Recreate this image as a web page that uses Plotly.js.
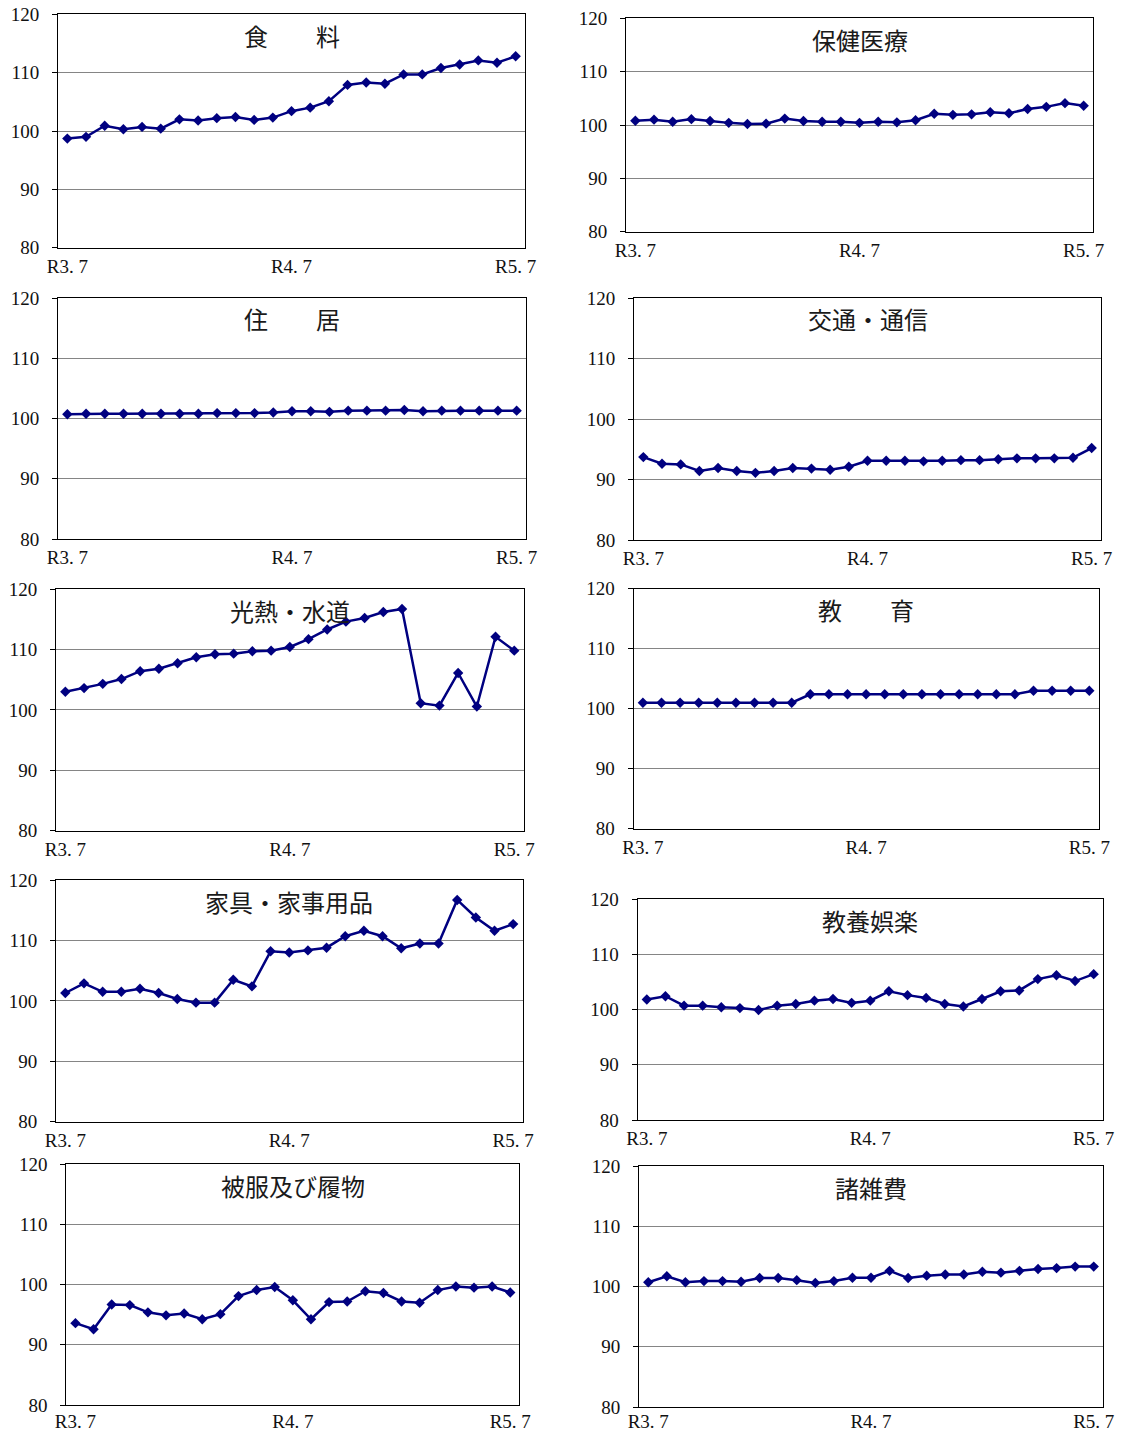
<!DOCTYPE html>
<html>
<head>
<meta charset="utf-8">
<script src="https://cdn.plot.ly/plotly-3.0.1.min.js"></script>
<style>html,body{margin:0;padding:0;background:#fff;}#chart{width:1121px;height:1434px;}</style>
</head>
<body>
<div id="chart"></div>
<script>
// ---- data ----
const months = ["R3.7","R3.8","R3.9","R3.10","R3.11","R3.12","R4.1","R4.2","R4.3","R4.4","R4.5","R4.6","R4.7",
                "R4.8","R4.9","R4.10","R4.11","R4.12","R5.1","R5.2","R5.3","R5.4","R5.5","R5.6","R5.7"];
const tickPositions = ["R3.7","R4.7","R5.7"];
const tickLabels = ["R3. 7","R4. 7","R5. 7"];
const yTickValues = [80,90,100,110,120];

const food      = [98.7,99.0,100.9,100.3,100.7,100.4,102.0,101.8,102.2,102.4,101.9,102.3,103.4,104.0,105.1,107.9,108.3,108.1,109.7,109.7,110.8,111.4,112.1,111.7,112.8];
const health    = [100.8,101.0,100.6,101.1,100.75,100.4,100.2,100.25,101.2,100.75,100.6,100.6,100.4,100.6,100.5,100.9,102.1,101.9,102.0,102.4,102.2,103.0,103.4,104.1,103.6];
const housing   = [100.7,100.8,100.8,100.8,100.8,100.8,100.8,100.8,100.9,100.9,100.9,101.0,101.2,101.2,101.1,101.3,101.3,101.3,101.4,101.2,101.3,101.3,101.3,101.3,101.3];
const transport = [93.7,92.6,92.5,91.4,91.9,91.4,91.1,91.4,91.9,91.8,91.6,92.1,93.1,93.1,93.1,93.0,93.1,93.2,93.2,93.35,93.5,93.5,93.5,93.6,95.2];
const utilities = [103.0,103.6,104.3,105.1,106.4,106.8,107.7,108.7,109.2,109.3,109.7,109.8,110.4,111.7,113.3,114.6,115.2,116.2,116.7,101.1,100.7,106.1,100.55,112.1,109.8];
const education = [101.0,101.0,101.0,101.0,101.0,101.0,101.0,101.0,101.0,102.4,102.4,102.4,102.4,102.4,102.4,102.4,102.4,102.4,102.4,102.4,102.4,103.0,103.0,103.0,103.0];
const furniture = [101.3,102.9,101.5,101.5,102.0,101.3,100.3,99.7,99.7,103.5,102.4,108.2,108.0,108.35,108.8,110.7,111.6,110.7,108.7,109.5,109.5,116.7,113.8,111.6,112.7];
const culture   = [101.8,102.4,100.7,100.7,100.4,100.25,99.9,100.7,101.0,101.6,101.9,101.2,101.6,103.3,102.6,102.1,101.0,100.55,101.9,103.3,103.45,105.5,106.2,105.15,106.4];
const clothing  = [93.6,92.6,96.7,96.6,95.4,94.9,95.2,94.25,95.1,98.1,99.1,99.6,97.4,94.25,97.1,97.2,98.9,98.6,97.2,97.0,99.1,99.7,99.5,99.7,98.7];
const misc      = [100.7,101.7,100.7,100.9,100.9,100.8,101.4,101.4,101.05,100.6,100.9,101.45,101.45,102.6,101.4,101.8,102.0,102.0,102.45,102.3,102.6,102.9,103.05,103.3,103.3];

const panelTitles = ["食　　料","保健医療","住　　居","交通・通信","光熱・水道","教　　育","家具・家事用品","教養娯楽","被服及び履物","諸雑費"];
const panelSeries = [food,health,housing,transport,utilities,education,furniture,culture,clothing,misc];

// ---- layout (pixel boxes of plot areas: left,right,top,bottom) ----
const W = 1121, H = 1434;
const boxes = [
  [58,525,14.3,247.7],[626,1093,18.3,231.7],
  [58,526,298,539],[634,1101,298,540],
  [56,523.6,589,830.7],[633.6,1098.6,588.7,828.7],
  [56,522.5,880,1121.7],[637.5,1103,899,1120],
  [66.4,519.3,1164.3,1405],[639,1103,1166,1407]
];
const xStandoffs = [1,1,1,1,1,1,1,1,-1,-3];

const tickFont = {family:"Liberation Serif, 'Times New Roman', serif", size:19, color:"#111"};
const layout = {
  width:W, height:H, margin:{l:0,r:0,t:0,b:0},
  paper_bgcolor:"#fff", plot_bgcolor:"#fff",
  showlegend:false, hovermode:false, annotations:[]
};
const traces = [];
panelSeries.forEach((vals,i)=>{
  const n = i===0 ? "" : String(i+1);
  const b = boxes[i];
  traces.push({
    type:"scatter", mode:"lines+markers",
    x:months, y:vals, xaxis:"x"+n, yaxis:"y"+n,
    line:{color:"#000080", width:2.5},
    marker:{symbol:"diamond", size:8, color:"#000080"},
    cliponaxis:false
  });
  layout["xaxis"+n] = {
    domain:[b[0]/W, b[1]/W], anchor:"y"+n,
    type:"category", categoryorder:"array", categoryarray:months,
    range:[-0.5,24.5], tickmode:"array", tickvals:tickPositions, ticktext:tickLabels,
    ticks:"", showgrid:false, zeroline:false,
    showline:true, linecolor:"#000", linewidth:1, mirror:true,
    tickfont:tickFont, ticklabelstandoff:xStandoffs[i], fixedrange:true
  };
  layout["yaxis"+n] = {
    domain:[1-b[3]/H, 1-b[2]/H], anchor:"x"+n,
    range:[80,120], tickmode:"array", tickvals:yTickValues,
    ticks:"outside", ticklen:5, tickcolor:"#000", tickwidth:1,
    showgrid:true, gridcolor:"#858585", gridwidth:1, zeroline:false,
    showline:true, linecolor:"#000", linewidth:1, mirror:true,
    tickfont:tickFont, ticklabelstandoff:9, fixedrange:true
  };
  layout.annotations.push({
    xref:"x"+n+" domain", yref:"y"+n+" domain", x:0.5, y:1,
    xanchor:"center", yanchor:"middle", yshift:-21, showarrow:false,
    text:panelTitles[i],
    font:{family:"'Noto Sans CJK JP', sans-serif", size:24, color:"#1a1a1a"}
  });
});

Plotly.newPlot("chart", traces, layout, {staticPlot:true, displayModeBar:false});
</script>
</body>
</html>
